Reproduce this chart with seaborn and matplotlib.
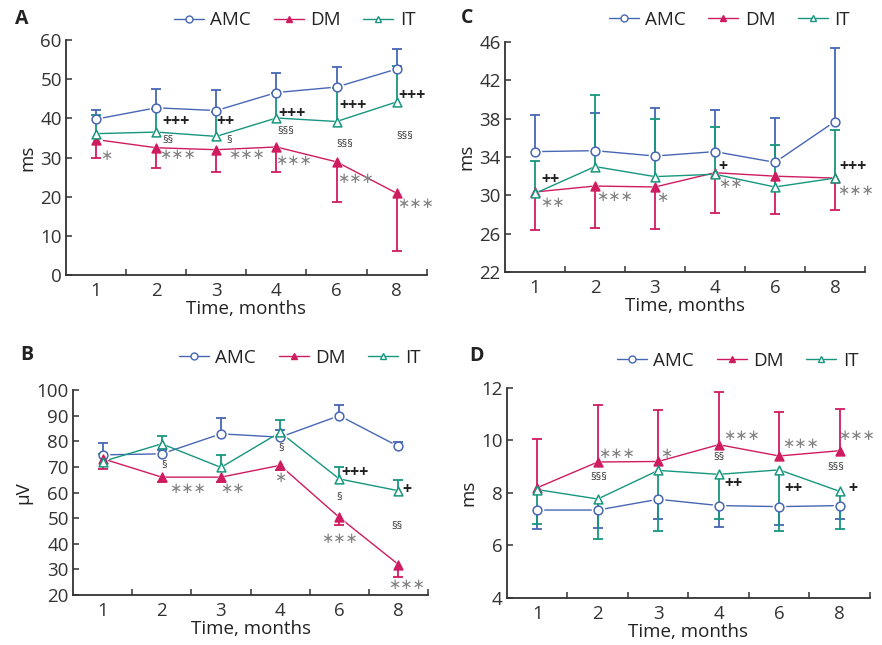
import numpy as np
import matplotlib
matplotlib.use("Agg")
import matplotlib.pyplot as plt
import seaborn as sns
from matplotlib.lines import Line2D

# categories
months = ["1", "2", "3", "4", "6", "8"]
groups = ["AMC", "DM", "IT"]

# panel A (ms)
a_amc = [39.8, 42.7, 42.0, 46.6, 48.0, 52.6]
a_amc_end = [42.1, 47.6, 47.3, 51.7, 53.2, 57.6]
a_dm = [34.6, 32.5, 32.0, 32.7, 28.9, 20.9]
a_dm_end = [29.8, 27.4, 26.3, 26.3, 18.7, 6.2]
a_it = [36.1, 36.5, 35.4, 40.1, 39.2, 44.2]
a_it_end = [40.9, 42.3, 41.6, 46.4, 47.8, 53.3]

# panel B (µV)
b_amc = [74.7, 75.1, 82.9, 81.6, 90.0, 78.0]
b_amc_end = [79.4, 76.5, 89.0, 84.4, 94.0, 79.9]
b_dm = [73.2, 66.0, 66.0, 70.6, 50.3, 31.9]
b_dm_end = [69.1, 64.1, 64.1, 68.6, 47.2, 27.0]
b_it = [72.1, 79.0, 69.8, 83.5, 65.3, 60.7]
b_it_end = [75.1, 82.0, 74.8, 88.2, 69.9, 64.9]

# panel C (ms)
c_amc = [34.56, 34.66, 34.1, 34.56, 33.44, 37.7]
c_amc_end = [38.4, 38.6, 39.1, 38.9, 38.07, 45.4]
c_dm = [30.35, 30.97, 30.87, 32.36, 32.0, 31.8]
c_dm_end = [26.4, 26.6, 26.5, 28.2, 28.05, 28.5]
c_it = [30.2, 33.0, 31.95, 32.2, 30.87, 31.8]
c_it_end = [33.6, 40.5, 38.0, 37.1, 35.2, 36.85]

# panel D (ms)
d_amc = [7.35, 7.35, 7.76, 7.52, 7.48, 7.52]
d_amc_end = [6.63, 6.68, 7.0, 6.72, 6.77, 7.0]
d_dm = [8.2, 9.18, 9.2, 9.84, 9.41, 9.61]
d_dm_end = [10.07, 11.37, 11.15, 11.85, 11.09, 11.2]
d_it = [8.13, 7.77, 8.86, 8.71, 8.88, 8.06]
d_it_end = [6.82, 6.24, 6.56, 7.0, 6.55, 6.64]

# significance marks: (x in category units, y, text)
a_notes = [(0.17, 30.6, "∗"),
           (1.33, 39.0, "+++"), (1.19, 34.3, "§§"), (1.36, 30.8, "∗∗∗"),
           (2.15, 39.0, "++"), (2.21, 34.3, "§"), (2.50, 30.8, "∗∗∗"),
           (3.26, 41.1, "+++"), (3.15, 36.6, "§§§"), (3.29, 29.2, "∗∗∗"),
           (4.28, 43.1, "+++"), (4.14, 33.4, "§§§"), (4.31, 24.7, "∗∗∗"),
           (5.25, 45.7, "+++"), (5.13, 35.3, "§§§"), (5.31, 18.3, "∗∗∗")]
b_notes = [(1.04, 70.6, "§"), (1.43, 61.4, "∗∗∗"), (2.20, 61.4, "∗∗"),
           (3.01, 77.3, "§"), (3.01, 65.9, "∗"),
           (4.26, 67.5, "+++"), (3.99, 58.2, "§"), (4.01, 42.2, "∗∗∗"),
           (5.14, 60.8, "+"), (4.97, 46.6, "§§"), (5.14, 24.0, "∗∗∗")]
c_notes = [(0.26, 31.6, "++"), (0.29, 29.3, "∗∗"), (1.33, 29.9, "∗∗∗"),
           (2.12, 29.8, "∗"), (3.14, 33.0, "+"), (3.25, 31.25, "∗∗"),
           (5.31, 33.0, "+++"), (5.35, 30.55, "∗∗∗")]
d_notes = [(1.31, 9.52, "∗∗∗"), (1.01, 8.58, "§§§"), (2.14, 9.50, "∗"),
           (3.37, 10.2, "∗∗∗"), (3.00, 9.35, "§§"), (3.24, 8.34, "++"),
           (4.35, 9.90, "∗∗∗"), (4.23, 8.16, "++"),
           (5.27, 10.2, "∗∗∗"), (4.94, 8.98, "§§§"), (5.22, 8.16, "+")]

sns.set_style("ticks")
plt.rcParams["font.family"] = ["Open Sans", "DejaVu Sans"]
plt.rcParams["axes.edgecolor"] = "#333333"
plt.rcParams["xtick.color"] = "#333333"
plt.rcParams["ytick.color"] = "#333333"
plt.rcParams["text.color"] = "#222222"
plt.rcParams["axes.labelcolor"] = "#222222"

colors = {"AMC": "#4766b4", "DM": "#cf1b60", "IT": "#16967f"}
markers = {"AMC": "o", "DM": "^", "IT": "^"}
faces = {"AMC": "white", "DM": "#cf1b60", "IT": "white"}


def draw_panel(rect, series, ylim, yticks, ylabel, notes, legend_at):
    ax = fig.add_axes(rect)
    pos = np.arange(len(months))
    for g in groups:
        vals, ends = series[g]
        c = colors[g]
        sns.lineplot(x=pos, y=vals, color=c, lw=1.0, ax=ax, zorder=2)
        # white halo gives the small gap between line and marker
        sns.scatterplot(x=pos, y=vals, marker=markers[g], s=95, color="white",
                        edgecolor="white", linewidth=0, ax=ax, zorder=3, legend=False)
    for g in groups:
        vals, ends = series[g]
        c = colors[g]
        ax.vlines(pos, vals, ends, color=c, lw=1.3, zorder=4)
        ax.plot(pos, ends, ls="none", marker="_", ms=7, mew=1.3, color=c, zorder=4)
    for g in groups:
        vals, ends = series[g]
        c = colors[g]
        sns.scatterplot(x=pos, y=vals, marker=markers[g], s=40, color=faces[g],
                        edgecolor=c, linewidth=1.1, ax=ax, zorder=5, legend=False)

    for x, y, t in notes:
        if t[0] == "∗":
            ax.text(x, y, t, ha="center", va="center", fontsize=10.5,
                    color="#808080", family="DejaVu Sans")
        elif t[0] == "+":
            ax.text(x, y, t, ha="center", va="center", fontsize=11.5,
                    fontweight="bold", color="#222222")
        else:
            ax.text(x, y, t, ha="center", va="center", fontsize=8, color="#333333")

    ax.set_xlim(-0.5, 5.5)
    ax.set_xticks(pos)
    ax.set_xticklabels(months)
    ax.set_xticks(np.arange(0.5, 6, 1), minor=True)
    ax.tick_params(axis="x", which="major", length=0, labelsize=13.5, pad=5)
    ax.tick_params(axis="x", which="minor", direction="in", length=4, width=1.1)
    ax.set_ylim(*ylim)
    ax.set_yticks(yticks)
    ax.tick_params(axis="y", direction="in", length=4, width=1.1, labelsize=13.5, pad=3)
    for s in ["left", "bottom"]:
        ax.spines[s].set_linewidth(1.3)
    sns.despine(ax=ax)
    ax.set_xlabel("Time, months", fontsize=13.5, labelpad=0)
    ax.set_ylabel(ylabel, fontsize=13.5, labelpad=3)

    handles = [Line2D([0], [0], color=colors[g], lw=1.0, marker=markers[g], ms=5,
                      mfc=faces[g], mec=colors[g], mew=1.0) for g in groups]
    ax.legend(handles, groups, ncol=3, frameon=False, fontsize=13.5,
              handlelength=1.6, handletextpad=0.35, columnspacing=1.2,
              loc="center right", bbox_to_anchor=legend_at, borderaxespad=0)
    return ax


fig = plt.figure(figsize=(8.82, 6.45), dpi=100)

draw_panel([0.0748, 0.5736, 0.409, 0.3643],
           {"AMC": (a_amc, a_amc_end), "DM": (a_dm, a_dm_end), "IT": (a_it, a_it_end)},
           (0, 60), range(0, 61, 10), "ms", a_notes, (0.99, 1.085))
draw_panel([0.5726, 0.5783, 0.408, 0.3566],
           {"AMC": (c_amc, c_amc_end), "DM": (c_dm, c_dm_end), "IT": (c_it, c_it_end)},
           (22, 46), range(22, 47, 4), "ms", c_notes, (0.98, 1.096))
draw_panel([0.0828, 0.0775, 0.4025, 0.3178],
           {"AMC": (b_amc, b_amc_end), "DM": (b_dm, b_dm_end), "IT": (b_it, b_it_end)},
           (20, 100), range(20, 101, 10), "µV", b_notes, (1.0, 1.156))
draw_panel([0.5748, 0.0729, 0.4116, 0.3256],
           {"AMC": (d_amc, d_amc_end), "DM": (d_dm, d_dm_end), "IT": (d_it, d_it_end)},
           (4, 12), range(4, 13, 2), "ms", d_notes, (0.989, 1.129))

for x, y, letter in [(15, 19, "A"), (461, 18, "C"), (20, 355, "B"), (469, 356, "D")]:
    fig.text(x / 882, 1 - y / 645, letter, fontsize=14, fontweight="bold", va="center")

fig.savefig("out.png", dpi=100, facecolor="white")
